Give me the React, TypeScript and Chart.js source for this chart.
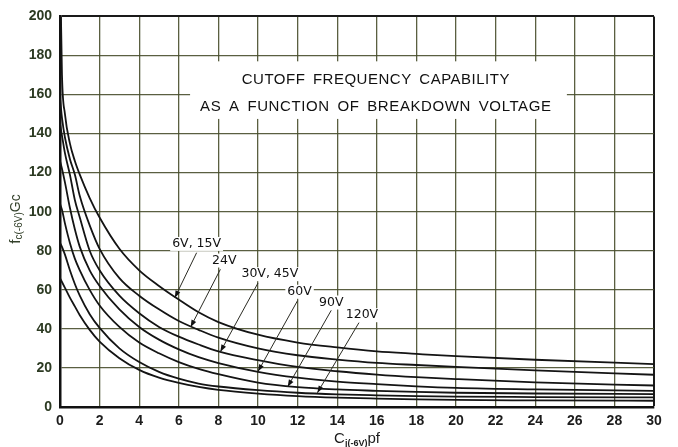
import React, { useEffect, useRef } from "react";
import { Chart, registerables } from "chart.js";

Chart.register(...registerables);

// C_j(-6V) in pF, shared x positions for every curve
const capValues = [0, 0.1, 0.25, 0.5, 0.75, 1, 1.5, 2, 3, 4, 5, 6, 7, 8, 10, 12, 14, 16, 18, 20, 24, 30];

// f_c(-6V) in Gc
const curve6V15V = [230, 170, 150, 135, 126, 119, 107, 97, 81, 70, 62, 55, 48.5, 43.5, 37, 33, 30.5, 28.5, 27.2, 26, 24.2, 22];
const curve24V = [158, 148, 138, 127, 119, 108, 93, 81, 66, 57, 50, 44, 39.5, 35.5, 30, 26.5, 24.3, 22.6, 21.5, 20.5, 18.8, 16.5];
const curve30V = [145, 139, 130, 119, 106, 97, 80, 70, 57, 48, 41, 36, 32, 28.5, 24, 20.5, 18.3, 16.6, 15.3, 14.3, 12.6, 11];
const curve45V = [126, 122, 115, 102, 91, 82, 70, 62, 50, 41, 34.5, 29.5, 25.5, 22.5, 18, 15, 13, 11.7, 10.6, 9.8, 9, 8.3];
const curve60V = [104, 101, 94, 84, 76, 70, 60, 52, 41, 33, 27.5, 23, 19.5, 16.8, 12.5, 10.2, 9, 8.3, 7.7, 7.3, 6.9, 6.6];
const curve90V = [84, 82, 78, 70, 63, 57, 47.5, 40.5, 30, 23, 18, 14.5, 12, 10.5, 8.6, 7.3, 6.5, 6, 5.6, 5.3, 5.1, 4.9];
const curve120V = [66, 64, 61, 56, 51.5, 47, 39.5, 33.5, 25, 19, 15, 12.3, 10.3, 8.8, 6.9, 5.6, 4.8, 4.3, 3.9, 3.6, 3.4, 3.2];

const seriesNames = ["6V, 15V", "24V", "30V", "45V", "60V", "90V", "120V"];
const seriesValues = [curve6V15V, curve24V, curve30V, curve45V, curve60V, curve90V, curve120V];

// axis ticks
const xTickStep = 2;
const yTickStep = 20;

// texts
const titleLines = ["CUTOFF FREQUENCY CAPABILITY", "AS A FUNCTION OF BREAKDOWN VOLTAGE"];
const curveLabels = ["6V, 15V", "24V", "30V, 45V", "60V", "90V", "120V"];

// annotation placement (data units): label centre, leader start, leader tip
const labelPlacement = [
  { tx: 6.9, ty: 83.5, sx: 6.9, sy: 79, ex: 5.8, ey: 56 },
  { tx: 8.3, ty: 75, sx: 8.1, sy: 70.5, ex: 6.6, ey: 41 },
  { tx: 10.6, ty: 68, sx: 10.0, sy: 63.5, ex: 8.1, ey: 28.3 },
  { tx: 12.1, ty: 59, sx: 12.0, sy: 54.5, ex: 10.0, ey: 18.2 },
  { tx: 13.7, ty: 53.5, sx: 13.7, sy: 49.5, ex: 11.5, ey: 10.4 },
  { tx: 15.25, ty: 47, sx: 15.1, sy: 43.2, ex: 13.0, ey: 7.3 },
];
const titleBox = { x0: 6.57, x1: 25.6, y0: 177, y1: 147.5, cx: 15.95, line1: 165.3, line2: 151.5 };

const notesPlugin = {
  id: "notes",
  beforeDatasetsDraw(chart: any) {
    const { ctx, scales } = chart;
    const x = scales.x, y = scales.y;
    ctx.save();
    const l = x.getPixelForValue(titleBox.x0);
    const r = x.getPixelForValue(titleBox.x1);
    const t = y.getPixelForValue(titleBox.y0);
    const b = y.getPixelForValue(titleBox.y1);
    ctx.fillStyle = "#ffffff";
    ctx.fillRect(l, t, r - l, b - t);
    ctx.fillStyle = "#111111";
    ctx.font = '15px "Liberation Sans"';
    ctx.textAlign = "center";
    ctx.textBaseline = "alphabetic";
    (ctx as any).letterSpacing = "0.5px";
    (ctx as any).wordSpacing = "3px";
    ctx.fillText(titleLines[0], x.getPixelForValue(titleBox.cx), y.getPixelForValue(titleBox.line1));
    (ctx as any).letterSpacing = "0.6px";
    ctx.fillText(titleLines[1], x.getPixelForValue(titleBox.cx), y.getPixelForValue(titleBox.line2));
    ctx.restore();
  },
  afterDatasetsDraw(chart: any) {
    const { ctx, scales } = chart;
    const x = scales.x, y = scales.y;
    ctx.save();
    labelPlacement.forEach((p, i) => {
      const sx = x.getPixelForValue(p.sx), sy = y.getPixelForValue(p.sy);
      const ex = x.getPixelForValue(p.ex), ey = y.getPixelForValue(p.ey);
      ctx.font = '12.5px "DejaVu Sans"';
      ctx.textAlign = "center";
      ctx.textBaseline = "middle";
      const tx = x.getPixelForValue(p.tx), ty = y.getPixelForValue(p.ty);
      const w = ctx.measureText(curveLabels[i]).width;
      ctx.fillStyle = "#ffffff";
      ctx.fillRect(tx - w / 2 - 2, ty - 7, w + 4, 14);
      ctx.fillStyle = "#111111";
      ctx.fillText(curveLabels[i], tx, ty);
      ctx.strokeStyle = "#2a2a22";
      ctx.lineWidth = 1;
      ctx.beginPath();
      ctx.moveTo(sx, sy);
      ctx.lineTo(ex, ey);
      ctx.stroke();
      const ang = Math.atan2(ey - sy, ex - sx);
      const len = 7, hw = 2.6;
      ctx.fillStyle = "#111";
      ctx.beginPath();
      ctx.moveTo(ex, ey);
      ctx.lineTo(ex - len * Math.cos(ang) + hw * Math.sin(ang), ey - len * Math.sin(ang) - hw * Math.cos(ang));
      ctx.lineTo(ex - len * Math.cos(ang) - hw * Math.sin(ang), ey - len * Math.sin(ang) + hw * Math.cos(ang));
      ctx.closePath();
      ctx.fill();
    });
    ctx.restore();
  },
  afterDraw(chart: any) {
    const { ctx, chartArea } = chart;
    ctx.save();
    ctx.textBaseline = "alphabetic";
    ctx.textAlign = "left";
    const yParts = [
      { t: "f", f: '15px "Liberation Sans"', dy: 0 },
      { t: "c(-6V)", f: '10px "Liberation Sans"', dy: 2 },
      { t: "Gc", f: '14px "Liberation Sans"', dy: 0 },
    ];
    let total = 0;
    yParts.forEach((p) => { ctx.font = p.f; total += ctx.measureText(p.t).width; });
    ctx.translate(20, 219);
    ctx.rotate(-Math.PI / 2);
    ctx.fillStyle = "#33402a";
    let cx = -total / 2;
    yParts.forEach((p) => { ctx.font = p.f; ctx.fillText(p.t, cx, p.dy); cx += ctx.measureText(p.t).width; });
    ctx.setTransform(1, 0, 0, 1, 0, 0);
    const xParts = [
      { t: "C", f: '15px "Liberation Sans"', dy: 0 },
      { t: "j(-6V)", f: 'bold 9px "Liberation Sans"', dy: 3 },
      { t: "pf", f: '15px "Liberation Sans"', dy: 0 },
    ];
    total = 0;
    xParts.forEach((p) => { ctx.font = p.f; total += ctx.measureText(p.t).width; });
    ctx.fillStyle = "#1c1c1c";
    cx = (chartArea.left + chartArea.right) / 2 - total / 2;
    const base = chartArea.bottom + 36;
    xParts.forEach((p) => { ctx.font = p.f; ctx.fillText(p.t, cx, base + p.dy); cx += ctx.measureText(p.t).width; });
    ctx.restore();
  },
};

export default function App() {
  const ref = useRef<HTMLCanvasElement | null>(null);
  useEffect(() => {
    if (!ref.current) return;
    const datasets = seriesValues.map((vals, i) => ({
      label: seriesNames[i],
      data: capValues.map((c, j) => ({ x: c, y: vals[j] })),
      borderColor: "#141414",
      borderWidth: 1.8,
      pointRadius: 0,
      fill: false,
      cubicInterpolationMode: "monotone" as const,
    }));
    const chart = new Chart(ref.current, {
      type: "line",
      data: { datasets },
      plugins: [notesPlugin],
      options: {
        animation: false,
        responsive: false,
        maintainAspectRatio: false,
        layout: { padding: { top: 15, right: 24, left: 0, bottom: 0 } },
        plugins: { legend: { display: false }, tooltip: { enabled: false } },
        scales: {
          x: {
            type: "linear",
            min: 0,
            max: 30,
            afterFit: (s: any) => { s.height = 40; },
            ticks: {
              stepSize: xTickStep,
              padding: 6,
              color: "#1c1c1c",
              font: { family: "Liberation Sans", size: 14, weight: "bold" },
            },
            grid: {
              drawTicks: false,
              color: (c: any) => (c.tick && c.tick.value === 30 ? "#1a1a1a" : "rgba(72,78,44,0.9)"),
              lineWidth: (c: any) => (c.tick && c.tick.value === 30 ? 2 : 1.3),
            },
            border: { display: true, color: "#111", width: 2.5 },
          },
          y: {
            type: "linear",
            min: 0,
            max: 200,
            afterFit: (s: any) => { s.width = 60; },
            ticks: {
              stepSize: yTickStep,
              padding: 8,
              color: "#2c3a22",
              font: { family: "Liberation Sans", size: 14, weight: "bold" },
            },
            grid: {
              drawTicks: false,
              color: (c: any) => (c.tick && c.tick.value === 200 ? "#1a1a1a" : "rgba(72,78,44,0.9)"),
              lineWidth: (c: any) => (c.tick && c.tick.value === 200 ? 2 : 1.3),
            },
            border: { display: true, color: "#111", width: 2.5 },
          },
        },
      },
    });
    return () => chart.destroy();
  }, []);
  return (
    <div style={{ position: "fixed", left: 0, top: 0, width: 678, height: 447, background: "#fff" }}>
      <canvas ref={ref} width={678} height={447} />
    </div>
  );
}
